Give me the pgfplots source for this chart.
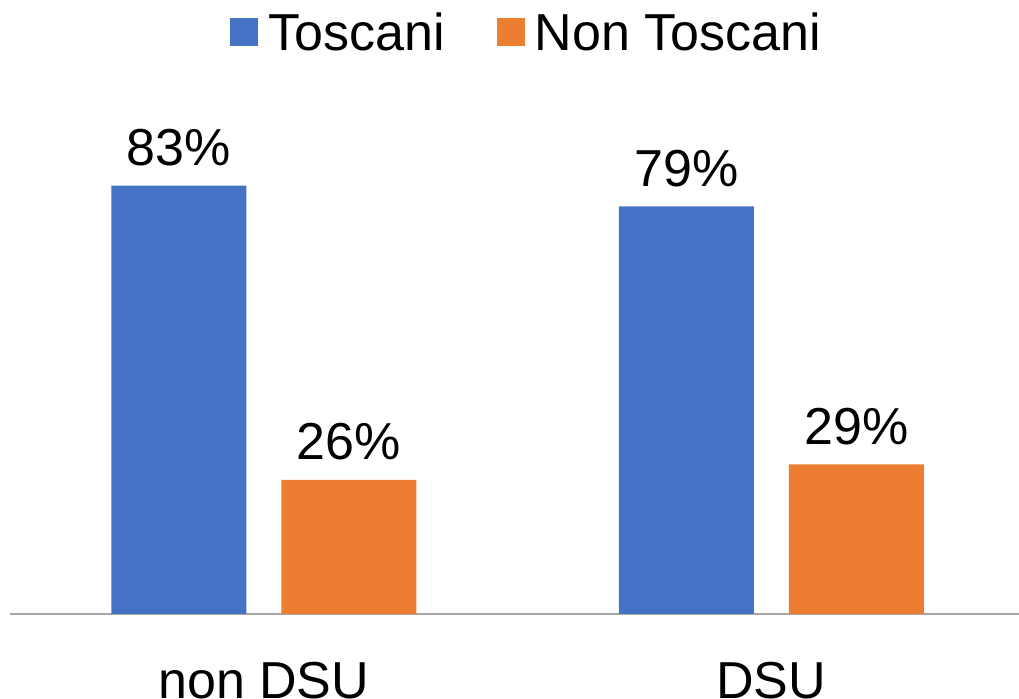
\documentclass[border=0pt]{standalone}
\usepackage{fontspec}
\setmainfont{Liberation Sans}
\usepackage{pgfplots}
\pgfplotsset{compat=1.18}
\definecolor{cblue}{HTML}{4472C4}
\definecolor{corange}{HTML}{ED7D31}
\definecolor{caxis}{HTML}{A6A6A6}
\begin{document}
\begin{tikzpicture}
\path[use as bounding box] (-5pt,-42.5pt) rectangle (504.5pt,307pt);
\begin{axis}[
  at={(0pt,0pt)}, anchor=south west,
  scale only axis, width=504.5pt, height=258pt,
  ybar=17.5pt, bar width=67.5pt,
  xmin=-0.5, xmax=1.488, ymin=0, ymax=100,
  xtick={0,1}, xticklabels={non DSU, DSU},
  axis x line*=bottom, axis y line=none,
  x axis line style={draw=caxis, line width=1pt, -},
  xtick style={draw=none},
  xticklabel style={font=\fontsize{26}{31}\selectfont, anchor=base, inner sep=0pt, yshift=-38pt},
  nodes near coords={\pgfmathprintnumber[assume math mode=true]{\pgfplotspointmeta}\%},
  every node near coord/.append style={font=\fontsize{26}{31}\selectfont, anchor=base, yshift=10pt, text=black},
  clip=false,
  legend columns=2,
  legend image code/.code={\fill[#1] (0pt,-6.5pt) rectangle (14pt,7.5pt); \path (17pt,0pt);},
  legend style={draw=none, fill=none, font=\fontsize{26}{31}\selectfont,
    at={(0.513,1)}, anchor=south, yshift=18pt,
    /tikz/every even column/.append style={column sep=24pt}},
]
\addplot[fill=cblue, draw=none] coordinates {(0,83) (1,79)};
\addlegendentry{Toscani}
\addplot[fill=corange, draw=none] coordinates {(0,26) (1,29)};
\addlegendentry{Non Toscani}
\end{axis}
\end{tikzpicture}
\end{document}
